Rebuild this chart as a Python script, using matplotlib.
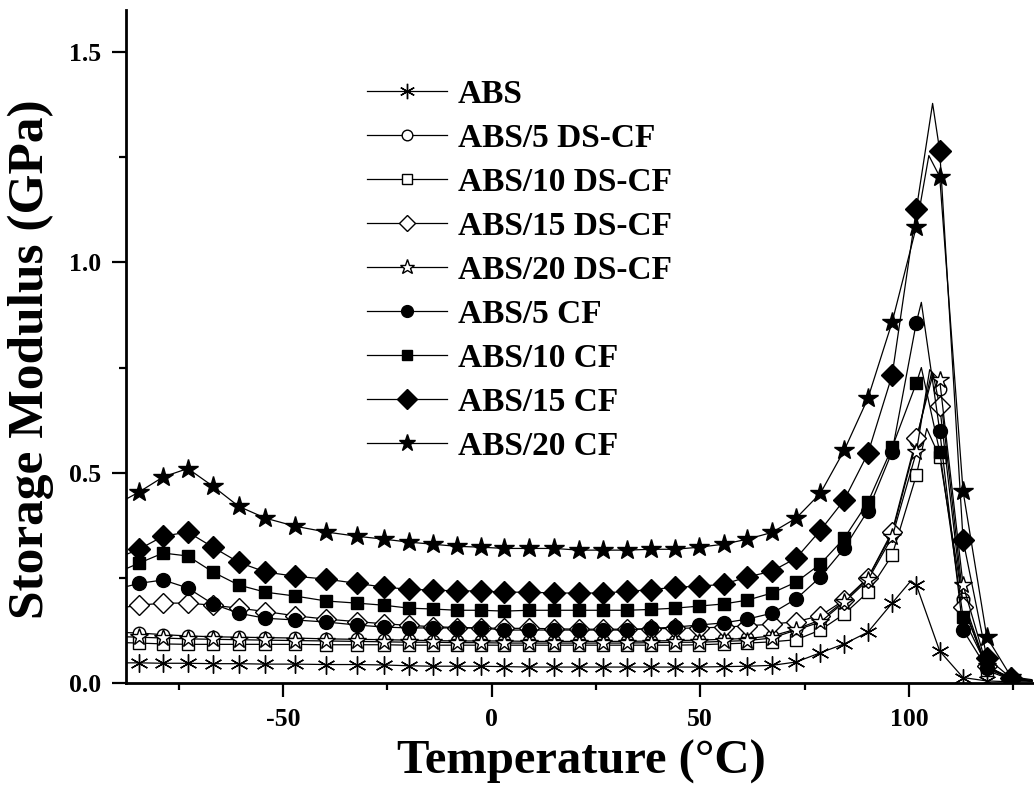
import numpy as np
import matplotlib
matplotlib.use("Agg")
import matplotlib.pyplot as plt

plt.rcParams["font.family"] = ["Liberation Serif", "DejaVu Serif"]
plt.rcParams["font.weight"] = "bold"
plt.rcParams["axes.unicode_minus"] = False

# marker temperatures (deg C), shared by all curves
temps = [-84.5, -78.7, -72.8, -66.8, -60.6, -54.2, -47.2, -39.6, -32.3, -25.8,
         -19.8, -14.1, -8.3, -2.6, 3.1, 9.0, 15.0, 20.9, 26.8, 32.5,
         38.3, 44.0, 49.8, 55.6, 61.3, 67.2, 73.0, 78.8, 84.5, 90.2,
         96.0, 101.8, 107.4, 113.0, 118.7, 124.5]

abs_E = [0.048, 0.047, 0.047, 0.046, 0.046, 0.045, 0.045, 0.044, 0.044, 0.043,
         0.041, 0.040, 0.040, 0.040, 0.039, 0.038, 0.038, 0.038, 0.038, 0.038,
         0.038, 0.038, 0.038, 0.039, 0.040, 0.042, 0.050, 0.072, 0.093, 0.121,
         0.190, 0.233, 0.076, 0.013, 0.005, 0.003]
ds5_E = [0.119, 0.115, 0.112, 0.110, 0.109, 0.108, 0.107, 0.105, 0.104, 0.103,
         0.102, 0.101, 0.100, 0.100, 0.100, 0.099, 0.099, 0.099, 0.099, 0.099,
         0.100, 0.101, 0.102, 0.104, 0.106, 0.112, 0.128, 0.150, 0.195, 0.250,
         0.355, 0.575, 0.700, 0.200, 0.035, 0.010]
ds10_E = [0.095, 0.093, 0.092, 0.092, 0.092, 0.092, 0.092, 0.091, 0.091, 0.091,
          0.090, 0.090, 0.090, 0.090, 0.090, 0.090, 0.090, 0.090, 0.090, 0.090,
          0.090, 0.090, 0.091, 0.093, 0.095, 0.098, 0.103, 0.126, 0.164, 0.216,
          0.304, 0.494, 0.537, 0.190, 0.030, 0.008]
ds15_E = [0.185, 0.190, 0.190, 0.185, 0.178, 0.170, 0.160, 0.152, 0.146, 0.141,
          0.137, 0.134, 0.132, 0.131, 0.130, 0.130, 0.129, 0.128, 0.128, 0.128,
          0.129, 0.130, 0.131, 0.133, 0.136, 0.140, 0.146, 0.160, 0.197, 0.250,
          0.360, 0.582, 0.658, 0.180, 0.040, 0.010]
ds20_E = [0.109, 0.107, 0.105, 0.104, 0.103, 0.102, 0.101, 0.100, 0.099, 0.098,
          0.097, 0.097, 0.096, 0.096, 0.095, 0.095, 0.095, 0.095, 0.095, 0.095,
          0.096, 0.097, 0.097, 0.099, 0.101, 0.107, 0.126, 0.145, 0.192, 0.245,
          0.347, 0.549, 0.720, 0.233, 0.040, 0.012]
cf5_E = [0.237, 0.245, 0.226, 0.188, 0.166, 0.154, 0.150, 0.145, 0.138, 0.133,
         0.131, 0.131, 0.131, 0.131, 0.126, 0.126, 0.126, 0.126, 0.126, 0.126,
         0.130, 0.133, 0.138, 0.143, 0.152, 0.166, 0.200, 0.252, 0.320, 0.410,
         0.550, 0.857, 0.600, 0.126, 0.035, 0.010]
cf10_E = [0.285, 0.309, 0.302, 0.264, 0.233, 0.216, 0.207, 0.195, 0.190, 0.185,
          0.178, 0.176, 0.173, 0.173, 0.171, 0.173, 0.173, 0.173, 0.173, 0.173,
          0.175, 0.178, 0.183, 0.188, 0.197, 0.214, 0.240, 0.283, 0.344, 0.430,
          0.560, 0.713, 0.550, 0.157, 0.040, 0.010]
cf15_E = [0.318, 0.349, 0.359, 0.323, 0.287, 0.264, 0.254, 0.247, 0.237, 0.228,
          0.223, 0.221, 0.219, 0.219, 0.216, 0.216, 0.214, 0.214, 0.214, 0.218,
          0.222, 0.228, 0.230, 0.235, 0.252, 0.266, 0.297, 0.363, 0.435, 0.546,
          0.732, 1.126, 1.266, 0.340, 0.060, 0.012]
cf20_E = [0.454, 0.490, 0.510, 0.468, 0.420, 0.392, 0.373, 0.359, 0.349, 0.342,
          0.335, 0.330, 0.325, 0.323, 0.320, 0.320, 0.320, 0.316, 0.316, 0.316,
          0.318, 0.318, 0.323, 0.330, 0.342, 0.358, 0.392, 0.451, 0.553, 0.677,
          0.858, 1.085, 1.204, 0.456, 0.109, 0.015]

labels = ["ABS", "ABS/5 DS-CF", "ABS/10 DS-CF", "ABS/15 DS-CF", "ABS/20 DS-CF",
          "ABS/5 CF", "ABS/10 CF", "ABS/15 CF", "ABS/20 CF"]
values = [abs_E, ds5_E, ds10_E, ds15_E, ds20_E, cf5_E, cf10_E, cf15_E, cf20_E]

# curve points without markers: left edge, peak maximum, right edge
start_T = -88.0
start_E = [0.048, 0.120, 0.096, 0.180, 0.110, 0.228, 0.270, 0.304, 0.435]
peak_T = [100.5, 105.5, 104.3, 105.8, 105.0, 103.0, 103.0, 105.7, 104.8]
peak_E = [0.243, 0.740, 0.605, 0.735, 0.745, 0.905, 0.750, 1.378, 1.254]
end_T = 129.5
end_E = [0.003, 0.005, 0.005, 0.005, 0.006, 0.005, 0.005, 0.006, 0.008]

styles = [
    dict(marker=(6, 2, 0), ms=13, mfc="none"),
    dict(marker="o", ms=9, mfc="white"),
    dict(marker="s", ms=8, mfc="white"),
    dict(marker="D", ms=10, mfc="white"),
    dict(marker="*", ms=13, mfc="white"),
    dict(marker="o", ms=10, mfc="black"),
    dict(marker="s", ms=9, mfc="black"),
    dict(marker="D", ms=11.5, mfc="black"),
    dict(marker="*", ms=15, mfc="black"),
]

fig = plt.figure(figsize=(10.34, 7.89), dpi=100)
ax = fig.add_axes([0.1219, 0.1343, 0.8781, 0.853])

n = len(temps)
for i, lab in enumerate(labels):
    T = np.array([start_T] + temps + [peak_T[i], end_T])
    E = np.array([start_E[i]] + values[i] + [peak_E[i], end_E[i]])
    order = np.argsort(T, kind="stable")
    mark_idx = [k for k, o in enumerate(order) if 1 <= o <= n]
    ax.plot(T[order], E[order], color="black", lw=0.9, mec="black", mew=1.0,
            markevery=mark_idx, label=lab, **styles[i])

ax.set_xlim(-87.6, 130)
ax.set_ylim(0, 1.6)
ax.set_xticks([-50, 0, 50, 100])
ax.set_xticks([-75, -25, 25, 75, 125], minor=True)
ax.set_yticks([0.0, 0.5, 1.0, 1.5])
ax.set_yticks([0.25, 0.75, 1.25], minor=True)
ax.set_yticklabels(["0.0", "0.5", "1.0", "1.5"])
ax.tick_params(which="major", direction="out", length=10, width=1.6,
               labelsize=18.5, pad=8)
ax.tick_params(which="minor", direction="out", length=5, width=1.6)
for s in ["top", "right"]:
    ax.spines[s].set_visible(False)
for s in ["left", "bottom"]:
    ax.spines[s].set_linewidth(2.0)

ax.set_xlabel("Temperature (\u00b0C)", fontsize=35, fontweight="bold")
ax.set_ylabel("Storage Modulus (GPa)", fontsize=37, fontweight="bold")
ax.xaxis.set_label_coords(0.502, -0.085)
ax.yaxis.set_label_coords(-0.079, 0.481)

ax.legend(loc="upper left", bbox_to_anchor=(0.265, 0.898), frameon=False,
          borderpad=0, borderaxespad=0, handlelength=2.4, handletextpad=0.33,
          labelspacing=0.39, fontsize=24, markerscale=0.85, numpoints=1)

fig.savefig("out.png", dpi=100)
